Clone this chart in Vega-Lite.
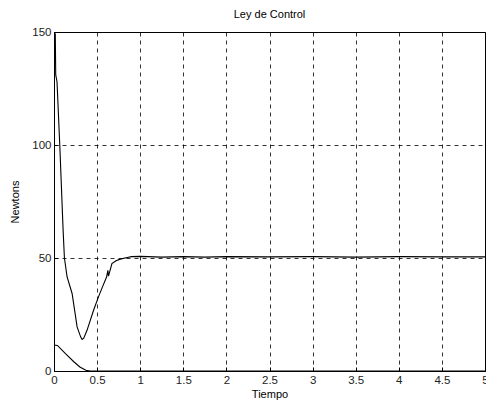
{
  "$schema": "https://vega.github.io/schema/vega-lite/v6.json",
  "width": 431,
  "height": 339,
  "autosize": {"type": "none"},
  "padding": {"left": 54, "top": 32, "right": 1, "bottom": 38},
  "background": "white",
  "title": {"text": "Ley de Control", "font": "Liberation Sans", "fontSize": 11, "fontWeight": "normal", "color": "black", "offset": 6},
  "config": {
    "view": {"stroke": "black", "strokeWidth": 1},
    "axis": {
      "labelFont": "Liberation Sans", "labelFontSize": 11.5, "labelColor": "#222",
      "titleFont": "Liberation Sans", "titleFontSize": 11, "titleFontWeight": "normal", "titleColor": "black",
      "domainColor": "black", "tickColor": "black", "tickSize": -4,
      "grid": true, "gridColor": "black", "gridDash": [4, 4], "gridOpacity": 0.8
    }
  },
  "data": {"values": [
    {"t": 0, "v": 150, "s": "a"},
    {"t": 0.015, "v": 149, "s": "a"},
    {"t": 0.02, "v": 131, "s": "a"},
    {"t": 0.035, "v": 128, "s": "a"},
    {"t": 0.067, "v": 100, "s": "a"},
    {"t": 0.106, "v": 62, "s": "a"},
    {"t": 0.121, "v": 50, "s": "a"},
    {"t": 0.152, "v": 41.6, "s": "a"},
    {"t": 0.21, "v": 34.3, "s": "a"},
    {"t": 0.268, "v": 19.5, "s": "a"},
    {"t": 0.31, "v": 15, "s": "a"},
    {"t": 0.326, "v": 14, "s": "a"},
    {"t": 0.345, "v": 14.5, "s": "a"},
    {"t": 0.383, "v": 18, "s": "a"},
    {"t": 0.46, "v": 27, "s": "a"},
    {"t": 0.518, "v": 33, "s": "a"},
    {"t": 0.56, "v": 37, "s": "a"},
    {"t": 0.61, "v": 41.6, "s": "a"},
    {"t": 0.625, "v": 44.5, "s": "a"},
    {"t": 0.632, "v": 42, "s": "a"},
    {"t": 0.672, "v": 47.5, "s": "a"},
    {"t": 0.72, "v": 48.8, "s": "a"},
    {"t": 0.768, "v": 49.5, "s": "a"},
    {"t": 0.85, "v": 50.2, "s": "a"},
    {"t": 0.9, "v": 50.6, "s": "a"},
    {"t": 1.0, "v": 50.7, "s": "a"},
    {"t": 1.25, "v": 50.4, "s": "a"},
    {"t": 1.5, "v": 50.6, "s": "a"},
    {"t": 1.75, "v": 50.4, "s": "a"},
    {"t": 2.0, "v": 50.6, "s": "a"},
    {"t": 2.5, "v": 50.5, "s": "a"},
    {"t": 3.0, "v": 50.6, "s": "a"},
    {"t": 3.5, "v": 50.4, "s": "a"},
    {"t": 4.0, "v": 50.6, "s": "a"},
    {"t": 4.5, "v": 50.5, "s": "a"},
    {"t": 5.0, "v": 50.5, "s": "a"},
    {"t": 0, "v": 11.5, "s": "b"},
    {"t": 0.04, "v": 11.3, "s": "b"},
    {"t": 0.13, "v": 7.8, "s": "b"},
    {"t": 0.23, "v": 4.1, "s": "b"},
    {"t": 0.3, "v": 1.8, "s": "b"},
    {"t": 0.37, "v": 0.3, "s": "b"},
    {"t": 0.42, "v": 0, "s": "b"},
    {"t": 5.0, "v": 0, "s": "b"}
  ]},
  "mark": {"type": "line", "color": "black", "strokeWidth": 1.1, "clip": true},
  "encoding": {
    "x": {"field": "t", "type": "quantitative", "title": "Tiempo",
          "scale": {"domain": [0, 5], "nice": false},
          "axis": {"values": [0, 0.5, 1, 1.5, 2, 2.5, 3, 3.5, 4, 4.5, 5], "format": "~g", "labelPadding": 7, "titlePadding": 3, "labelFlush": false}},
    "y": {"field": "v", "type": "quantitative", "title": "Newtons",
          "scale": {"domain": [0, 150], "nice": false},
          "axis": {"values": [0, 50, 100, 150], "labelPadding": 7, "titlePadding": 11, "labelFlush": false}},
    "detail": {"field": "s"},
    "order": {"field": "t"}
  }
}
